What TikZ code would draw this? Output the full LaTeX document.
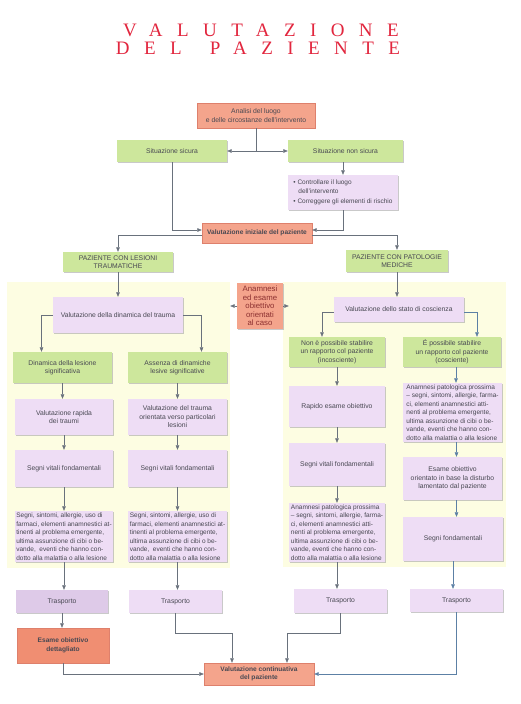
\documentclass[tikz,border=0pt]{standalone}
\usepackage{fontspec}
\setmainfont{Liberation Sans}
\newfontfamily\titlefont[LetterSpace=76]{Liberation Serif}
\usetikzlibrary{arrows.meta,shadows}

\definecolor{salmon}{RGB}{244,164,140}
\definecolor{salmondeep}{RGB}{240,142,114}
\definecolor{salmonline}{RGB}{222,128,108}
\definecolor{leaf}{RGB}{205,231,156}
\definecolor{lilac}{RGB}{238,221,245}
\definecolor{lilacdeep}{RGB}{222,202,232}
\definecolor{cream}{RGB}{253,253,226}
\definecolor{inkgray}{RGB}{72,72,82}
\definecolor{inkred}{RGB}{140,48,48}
\definecolor{wire}{RGB}{105,113,124}
\definecolor{wireblue}{RGB}{92,128,165}
\definecolor{titlered}{RGB}{226,38,62}

\begin{document}
\begin{tikzpicture}[x=1pt, y=-1pt, >={Triangle[length=4.5pt,width=3.6pt]},
  panel/.style={inner sep=1.5pt, align=center, text=inkgray,
    font=\fontsize{6.8}{8.5}\selectfont,
    drop shadow={shadow xshift=1.2pt, shadow yshift=-1.2pt, fill=black!35, opacity=0.6}},
  leafbox/.style={panel, fill=leaf},
  lilacbox/.style={panel, fill=lilac},
  redbox/.style={panel, fill=salmon, draw=salmonline, line width=0.4pt},
  notes/.style={lilacbox, align=left, font=\fontsize{6.5}{8.5}\selectfont},
  heavy/.style={font=\fontsize{6.6}{8.5}\selectfont\bfseries},
  zone/.style={fill=cream, inner sep=0pt},
  wh/.style 2 args={minimum width=#1pt, minimum height=#2pt},
  link/.style={draw=wire, line width=0.5pt, ->},
  bluelink/.style={link, draw=wireblue},
]
  \fill[white] (0,0) rectangle (520,704);
  \useasboundingbox (0,0) rectangle (520,704);

  % title
  \node[text=titlered, font=\titlefont\fontsize{19}{20}\selectfont] (title1) at (261,30) {VALUTAZIONE};
  \node[text=titlered, font=\titlefont\fontsize{19}{20}\selectfont] (title2) at (258,48) {DEL\hspace{9pt} PAZIENTE};

  % background zones
  \node[zone, wh={223}{286}] (zoneL) at (118.5,425) {};
  \node[zone, wh={223}{285}] (zoneR) at (394.5,424.5) {};

  \node[redbox, wh={118}{25}] (analisi) at (256,115.5) {Analisi del luogo\\e delle circostanze dell’intervento};
  \node[leafbox, wh={110}{22}] (sicura) at (172,151) {Situazione sicura};
  \node[leafbox, wh={115}{22}] (nonsicura) at (345.5,151) {Situazione non sicura};
  \node[notes, wh={110}{35}] (rischio) at (343,192.5)
    {\textbullet\ Controllare il luogo\\\hspace*{5pt}dell’intervento\\[2pt]\textbullet\ Correggere gli elementi di rischio};
  \node[redbox, heavy, wh={110}{20}] (iniziale) at (257,233) {Valutazione iniziale del paziente};

  \node[leafbox, wh={110}{20}] (traumi) at (118,262) {PAZIENTE CON LESIONI\\TRAUMATICHE};
  \node[leafbox, wh={102}{22}] (mediche) at (397,261) {PAZIENTE CON PATOLOGIE\\MEDICHE};
  \node[lilacbox, wh={130}{36}] (dinamica) at (118,315) {Valutazione della dinamica del trauma};
  \node[lilacbox, wh={130}{25}] (coscienza) at (399,309.5) {Valutazione dello stato di coscienza};
  \node[panel, fill=salmon, text=inkred, font=\fontsize{7.8}{8.6}\selectfont, wh={46}{46}] (caso) at (260,306)
    {Anamnesi\\ed esame\\obiettivo\\orientati\\al caso};

  % traumi
  \node[leafbox, wh={99}{31}] (lesione) at (62.5,367.5) {Dinamica della lesione\\significativa};
  \node[leafbox, wh={99}{31}] (assenza) at (177.5,367.5) {Assenza di dinamiche\\lesive significative};
  \node[lilacbox, wh={98}{36}] (rapida) at (64,417) {Valutazione rapida\\dei traumi};
  \node[lilacbox, wh={99}{36}] (orientata) at (177.5,417) {Valutazione del trauma\\orientata verso particolari\\lesioni};
  \node[lilacbox, wh={98}{37}] (vitaliA) at (64,468.5) {Segni vitali fondamentali};
  \node[lilacbox, wh={99}{37}] (vitaliB) at (177.5,468.5) {Segni vitali fondamentali};
  \node[notes, wh={98}{51}] (segniA) at (64,536.5)
    {Segni, sintomi, allergie, uso di\\farmaci, elementi anamnestici at-\\tinenti al problema emergente,\\ultima assunzione di cibi o be-\\vande,\ \ eventi che hanno con-\\dotto alla malattia o alla lesione};
  \node[notes, wh={99}{51}] (segniB) at (177.5,536.5)
    {Segni, sintomi, allergie, uso di\\farmaci, elementi anamnestici at-\\tinenti al problema emergente,\\ultima assunzione di cibi o be-\\vande,\ \ eventi che hanno con-\\dotto alla malattia o alla lesione};
  \node[lilacbox, fill=lilacdeep, wh={92}{23}] (trasA) at (62,601.5) {Trasporto};
  \node[lilacbox, wh={93}{23}] (trasB) at (175.5,601.5) {Trasporto};
  \node[redbox, heavy, fill=salmondeep, wh={92}{35}] (dettagliato) at (63,645.5) {Esame obiettivo\\dettagliato};

  % patologie
  \node[leafbox, wh={96}{30}] (incosciente) at (337,352) {Non è possibile stabilire\\un rapporto col paziente\\(incosciente)};
  \node[leafbox, wh={98}{30}] (cosciente) at (452,352) {É possibile stabilire\\un rapporto col paziente\\(cosciente)};
  \node[lilacbox, wh={96}{41}] (rapido) at (337,406.5) {Rapido esame obiettivo};
  \node[lilacbox, wh={96}{43}] (vitaliC) at (337,464.5) {Segni vitali fondamentali};
  \node[notes, wh={96}{59}] (anamC) at (337,532.5)
    {Anamnesi patologica prossima\\– segni, sintomi, allergie, farma-\\ci, elementi anamnestici atti-\\nenti al problema emergente,\\ultima assunzione di cibi o be-\\vande, eventi che hanno con-\\dotto alla malattia o alla lesione};
  \node[notes, wh={99}{59}] (anamD) at (452.5,412.5)
    {Anamnesi patologica prossima\\– segni, sintomi, allergie, farma-\\ci, elementi anamnestici atti-\\nenti al problema emergente,\\ultima assunzione di cibi o be-\\vande, eventi che hanno con-\\dotto alla malattia o alla lesione};
  \node[lilacbox, wh={99}{43}] (esameD) at (452.5,478.5) {Esame obiettivo\\orientato in base la disturbo\\lamentato dal paziente};
  \node[lilacbox, wh={100}{44}] (segniD) at (453,539) {Segni fondamentali};
  \node[lilacbox, wh={93}{24}] (trasC) at (340.5,601) {Trasporto};
  \node[lilacbox, wh={93}{23}] (trasD) at (456.5,600.5) {Trasporto};

  \node[redbox, heavy, wh={110}{22}] (continua) at (259,674) {Valutazione continuativa\\del paziente};

  % connectors
  \draw[draw=wire, line width=0.5pt] (analisi.south) -- (analisi.south |- sicura.east);
  \draw[link] (analisi.south |- sicura.east) -- (sicura.east);
  \draw[link] (analisi.south |- sicura.east) -- (nonsicura.west);
  \draw[link] (rischio.north |- nonsicura.south) -- (rischio.north);
  \draw[link] (sicura.south) |- ([yshift=3pt]iniziale.west);
  \draw[link] (rischio.south) |- ([yshift=3pt]iniziale.east);
  \draw[link] ([yshift=-2pt]iniziale.west) -| (traumi.north);
  \draw[link] ([yshift=-2pt]iniziale.east) -| (mediche.north);

  \draw[link] (traumi) -- (dinamica);
  \draw[link] (mediche.south) -- (mediche.south |- coscienza.north);
  \draw[link] (dinamica.west) -| ([xshift=-21pt]lesione.north);
  \draw[link] (dinamica.east) -| ([xshift=24pt]assenza.north);
  \draw[link] ([yshift=-3pt]coscienza.west) -| ([xshift=-15pt]incosciente.north);
  \draw[bluelink] ([yshift=-3pt]coscienza.east) -| ([xshift=25pt]cosciente.north);
  \draw[link] (caso.west) -- (caso.west -| zoneL.east);
  \draw[link] (caso.east) -- ([xshift=6pt]caso.east -| zoneR.west);

  \draw[link] (lesione.south) -- (lesione.south |- rapida.north);
  \draw[link] (rapida.south) -- (rapida.south |- vitaliA.north);
  \draw[link] (vitaliA.south) -- (vitaliA.south |- segniA.north);
  \draw[link] (segniA.south) -- (segniA.south |- trasA.north);
  \draw[link] (trasA.south) -- (trasA.south |- dettagliato.north);
  \draw[link] (assenza.south) -- (assenza.south |- orientata.north);
  \draw[link] (orientata.south) -- (orientata.south |- vitaliB.north);
  \draw[link] (vitaliB.south) -- (vitaliB.south |- segniB.north);
  \draw[link] (segniB.south) -- (segniB.south |- trasB.north);

  \draw[link] (incosciente.south) -- (incosciente.south |- rapido.north);
  \draw[link] (rapido.south) -- (rapido.south |- vitaliC.north);
  \draw[link] (vitaliC.south) -- (vitaliC.south |- anamC.north);
  \draw[link] (anamC.south) -- (anamC.south |- trasC.north);
  \draw[bluelink] ([xshift=4pt]cosciente.south) -- ([xshift=4pt]cosciente.south |- anamD.north);
  \draw[bluelink] ([xshift=4pt]anamD.south) -- ([xshift=4pt]anamD.south |- esameD.north);
  \draw[bluelink] ([xshift=4pt]esameD.south) -- ([xshift=4pt]esameD.south |- segniD.north);
  \draw[bluelink] (segniD.south) -- (segniD.south |- trasD.north);

  \draw[link] (dettagliato.south) |- (continua.west);
  \draw[link] (trasB.south) -- ++(0,20) -| ([xshift=-27pt]continua.north);
  \draw[link] (trasC.south) -- ++(0,20) -| ([xshift=28pt]continua.north);
  \draw[bluelink] (trasD.south) |- (continua.east);
\end{tikzpicture}
\end{document}
